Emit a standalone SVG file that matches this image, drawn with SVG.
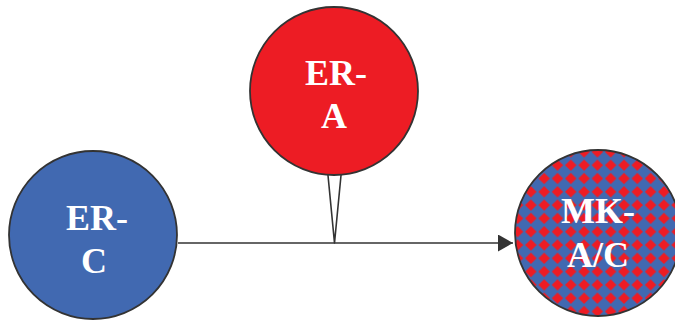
<svg xmlns="http://www.w3.org/2000/svg" width="675" height="320" viewBox="0 0 675 320">
<defs>
<pattern id="diam" patternUnits="userSpaceOnUse" x="5.55" y="12.25" width="13.3" height="13.3">
<rect width="13.3" height="13.3" fill="#4169B1"/>
<path d="M6.65,0.9 L12.4,6.65 L6.65,12.4 L0.9,6.65 Z" fill="#ED1C24"/>
</pattern>
<marker id="arr" markerWidth="15" markerHeight="17" refX="15" refY="8.5" orient="auto" markerUnits="userSpaceOnUse">
<path d="M0,0 L15,8.5 L0,17 Z" fill="#333"/>
</marker>
</defs>
<style>
.node { stroke:#333; stroke-width:1.8; }
.lbl { font-family:"Liberation Serif", "Times New Roman", serif; font-weight:bold; font-size:36px; fill:#fff; text-anchor:middle; }
.conn { stroke:#333; stroke-width:1.6; fill:none; }
</style>
<rect width="675" height="320" fill="#fff"/>
<g id="connectors">
<line class="conn" x1="178" y1="243" x2="513" y2="243" marker-end="url(#arr)"/>
<polygon points="327,165 342,165 334.5,243" fill="#fff" stroke="#333" stroke-width="1.6" stroke-linejoin="round"/>
</g>
<g id="node-er-a">
<circle class="node" cx="334" cy="91" r="84" fill="#ED1C24"/>
<text class="lbl" x="336" y="85">ER-</text>
<text class="lbl" x="334" y="128">A</text>
</g>
<g id="node-er-c">
<circle class="node" cx="93" cy="235" r="84" fill="#4169B1"/>
<text class="lbl" x="97" y="230">ER-</text>
<text class="lbl" x="94" y="273">C</text>
</g>
<g id="node-mk-ac">
<circle class="node" cx="598" cy="233" r="83" fill="url(#diam)"/>
<text class="lbl" x="598" y="223">MK-</text>
<text class="lbl" x="598" y="267">A/C</text>
</g>
</svg>
